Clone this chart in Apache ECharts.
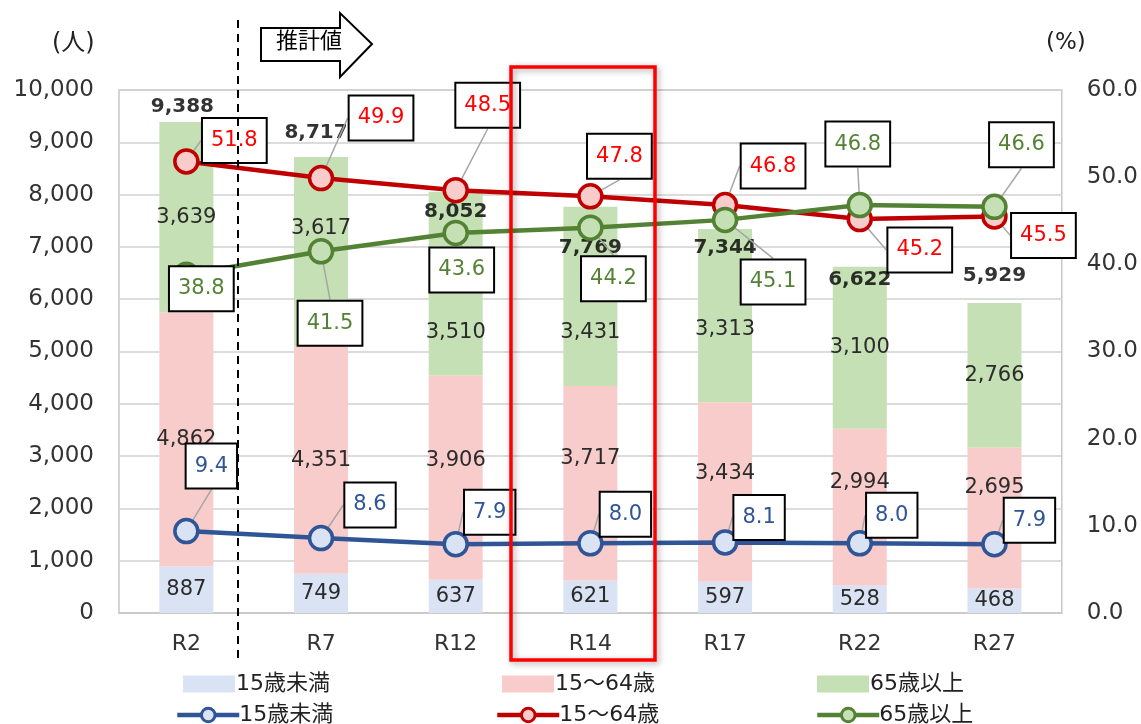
<!DOCTYPE html>
<html><head><meta charset="utf-8">
<script src="https://cdn.jsdelivr.net/npm/echarts@6/dist/echarts.min.js"></script>
<style>html,body{margin:0;padding:0;background:#fff}#c{width:1141px;height:724px}</style>
</head><body><div id="c"></div>
<script>
const categories = ['R2','R7','R12','R14','R17','R22','R27'];
const under15 = [887,749,637,621,597,528,468];
const age15to64 = [4862,4351,3906,3717,3434,2994,2695];
const over65 = [3639,3617,3510,3431,3313,3100,2766];
const totals = [9388,8717,8052,7769,7344,6622,5929];
const pctUnder15 = [9.4,8.6,7.9,8.0,8.1,8.0,7.9];
const pct15to64 = [51.8,49.9,48.5,47.8,46.8,45.2,45.5];
const pctOver65 = [38.8,41.5,43.6,44.2,45.1,46.8,46.6];
const seriesNames = ['15歳未満','15～64歳','65歳以上'];
const leftTicks = {min:0,max:10000,interval:1000};
const rightTicks = {min:0,max:60,interval:10};

// label placements (styling only)
const offRed = [[48,-21],[60,-60],[32,-85],[29,-40],[48,-39],[60,31],[49,19]];
const offGreen = [[15,14],[9,72],[6,37],[23,51],[48,62],[-2,-61],[27,-62]];
const offBlue = [[25,-65],[49,-33],[34,-32],[35,-29],[34,-25],[32,-28],[35,-24]];
const offTotal = [[-4,0],[-5,-9],[0,35],[0,56],[0,34],[0,28],[0,-12]];
const offBarBlue = [0,0,0,0,0,0,0];
const offBarPink = [0,0,-17,-25,-18,-25,-31];
const offBarGreen = [0,-23,49,36,14,0,0];

const FONT = '"DejaVu Sans","Noto Sans CJK JP",sans-serif';
const chart = echarts.init(document.getElementById('c'), null, {renderer:'canvas'});
const fmtNum = v => v.toLocaleString('en-US');
const LINE_SUFFIX = '\u200b';

function lineSeries(name, data, color, fill, textColor, offs){
  return {
    name: name + LINE_SUFFIX, type:'line', yAxisIndex:1, data:data, z:5,
    symbol:'circle', symbolSize:23,
    lineStyle:{color:color,width:4.5},
    itemStyle:{color:fill,borderColor:color,borderWidth:3.5},
    label:{show:true,position:'inside',color:textColor,fontFamily:FONT,fontSize:21,lineHeight:24,
      backgroundColor:'#fff',borderColor:'#000',borderWidth:2,padding:[10,8,9,8],
      formatter:p=>p.value.toFixed(1)},
    labelLine:{show:true,lineStyle:{color:'#a6a6a6',width:1.5}},
    labelLayout:p=>({dx:offs[p.dataIndex][0],dy:offs[p.dataIndex][1]}),
    emphasis:{disabled:true}
  };
}
function barSeries(name, data, color, offs){
  return {
    name:name, type:'bar', stack:'pop', data:data, barWidth:54, z:2,
    itemStyle:{color:color},
    label:{show:true,position:'inside',color:'#2b2b2b',fontFamily:FONT,fontSize:21,
      formatter:p=>fmtNum(p.value)},
    labelLayout:p=>({dy:offs[p.dataIndex]}),
    emphasis:{disabled:true}
  };
}
const barLegLeft = [178,497,812];
const lineLegLeft = [170,490,810];
const legends = [];
seriesNames.forEach((n,i)=>{
  legends.push({left:barLegLeft[i],top:668,itemWidth:52,itemHeight:17,itemGap:0,icon:'rect',
    data:[n],textStyle:{fontSize:22,color:'#222',fontFamily:FONT,padding:[0,0,0,-4]}});
  legends.push({left:lineLegLeft[i],top:699,itemWidth:62,itemHeight:17,itemGap:0,
    lineStyle:{width:4.5},itemStyle:{borderWidth:3},
    data:[n+LINE_SUFFIX],formatter:x=>x.replace(LINE_SUFFIX,''),
    textStyle:{fontSize:22,color:'#222',fontFamily:FONT,padding:[0,0,0,-5]}});
});

const option = {
  animation:false,
  textStyle:{fontFamily:FONT},
  grid:{left:119,right:78,top:90,bottom:111,show:true,borderColor:'#c8c8c8',borderWidth:1.5},
  xAxis:{type:'category',data:categories,
    axisLine:{lineStyle:{color:'#c8c8c8',width:1.5}},axisTick:{show:false},
    axisLabel:{color:'#333',fontSize:22,fontFamily:FONT,margin:20}},
  yAxis:[
    {type:'value',min:leftTicks.min,max:leftTicks.max,interval:leftTicks.interval,
     axisLabel:{color:'#333',fontSize:23,fontFamily:FONT,margin:25,formatter:v=>fmtNum(v)},
     splitLine:{lineStyle:{color:'#d0d0d0',width:1.5}},axisLine:{show:false},axisTick:{show:false}},
    {type:'value',min:rightTicks.min,max:rightTicks.max,interval:rightTicks.interval,
     axisLabel:{color:'#333',fontSize:23,fontFamily:FONT,margin:25,formatter:v=>v.toFixed(1)},
     splitLine:{show:false},axisLine:{show:false},axisTick:{show:false}}
  ],
  legend:legends,
  series:[
    barSeries(seriesNames[0],under15,'#dae3f3',offBarBlue),
    barSeries(seriesNames[1],age15to64,'#f9cccc',offBarPink),
    barSeries(seriesNames[2],over65,'#c5e0b4',offBarGreen),
    {name:'total',type:'scatter',data:totals,symbolSize:0,z:4,silent:true,
     label:{show:true,position:'top',distance:5,color:'#000',fontWeight:'bold',fontSize:20,fontFamily:FONT,
       formatter:p=>fmtNum(p.value)},
     labelLayout:p=>({dx:offTotal[p.dataIndex][0],dy:offTotal[p.dataIndex][1]})},
    lineSeries(seriesNames[0],pctUnder15,'#2f5597','#dae3f3','#2f5597',offBlue),
    lineSeries(seriesNames[1],pct15to64,'#c00000','#f9cccc','#ff0000',offRed),
    lineSeries(seriesNames[2],pctOver65,'#548235','#c5e0b4','#548235',offGreen)
  ],
  graphic:[
    {type:'text',left:52,top:32,style:{text:'(人)',fontSize:24,fontFamily:FONT,fill:'#222'}},
    {type:'text',left:1046,top:32,style:{text:'(%)',fontSize:23,fontFamily:FONT,fill:'#222'}},
    {type:'line',z:50,shape:{x1:238,y1:20,x2:238,y2:662},style:{stroke:'#000',lineWidth:2,lineDash:[8,6]}},
    {type:'polygon',z:50,shape:{points:[[261,28],[340,28],[340,13],[372,44],[340,77],[340,61],[261,61]]},
     style:{fill:'#fff',stroke:'#000',lineWidth:2}},
    {type:'text',z:51,left:276,top:31,style:{text:'推計値',fontSize:22,fontFamily:FONT,fill:'#000'}},
    {type:'rect',z:60,shape:{x:511,y:67,width:144,height:593},
     style:{fill:'none',stroke:'#ff0000',lineWidth:3.5,shadowBlur:6,shadowColor:'rgba(0,0,0,0.35)',shadowOffsetX:2,shadowOffsetY:2}}
  ]
};
chart.setOption(option);
</script>
</body></html>
